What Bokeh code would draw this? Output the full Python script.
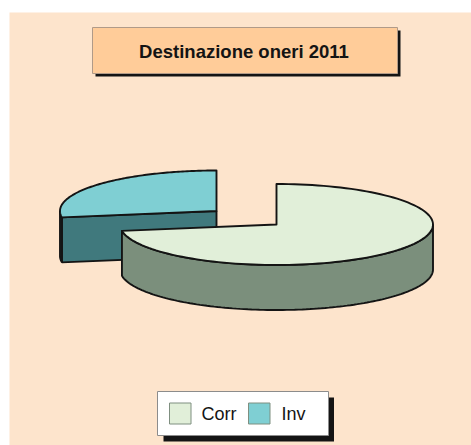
import numpy as np
from bokeh.plotting import figure
from bokeh.core.properties import value
from bokeh.embed import file_html
from bokeh.resources import INLINE

# Data
title_text = "Destinazione oneri 2011"
categories = ["Corr", "Inv"]
values = [72.5, 27.5]
top_colors = ["#E1EFD9", "#7FCFD3"]
side_colors = ["#7B8F7C", "#40797D"]

# Layout, in page pixels
W, H = 471, 445
RX, RY, DEPTH = 156.5, 40.5, 45
CENTERS = {"Corr": (276, 224), "Inv": (216, 210.5)}
INK = "#141414"
LW = 1.9

p = figure(width=W, height=H, x_range=(0, W), y_range=(H, 0),
           output_backend="svg", toolbar_location=None, background_fill_color="white",
           min_border=0, outline_line_color=None, border_fill_color="white")
p.axis.visible = False
p.grid.visible = False


def box(x0, x1, y0, y1, fill, line=None, lw=1):
    p.quad(left=[x0], right=[x1], top=[y0], bottom=[y1], fill_color=fill,
           line_color=line, line_width=lw)


def rim(name, a0, a1):
    cx, cy = CENTERS[name]
    t = np.radians(np.linspace(a0, a1, 120))
    return cx + RX * np.sin(t), cy - RY * np.cos(t)


box(9, 471, 12, 445, "#FDE4CC")

# Title box
box(95, 400, 30, 76, INK)
box(92, 397, 27, 73, "#FFCC99", "#B09A88", 1)
p.text(x=[243.5], y=[51], text=[title_text], text_font=value("Liberation Sans"),
       text_font_style="bold", text_font_size="18.5px", text_align="center",
       text_baseline="middle", text_color=INK)

# Pie slices, angles measured clockwise from the top of the ellipse
shares = np.array(values) / sum(values) * 360
split = shares[0]

# Inv: radial wall, small outer wall, top
cx, cy = CENTERS["Inv"]
ex, ey = rim("Inv", split, split)
p.patch([cx, ex[0], ex[0], cx], [cy, ey[0], ey[0] + DEPTH, cy + DEPTH],
        fill_color=side_colors[1], line_color=INK, line_width=LW)
wx, wy = rim("Inv", split, 270)
p.patch(np.r_[wx, wx[::-1]], np.r_[wy, wy[::-1] + DEPTH],
        fill_color=side_colors[1], line_color=INK, line_width=LW)
tx, ty = rim("Inv", split, 360)
p.patch(np.r_[cx, tx], np.r_[cy, ty], fill_color=top_colors[1], line_color=INK,
        line_width=LW, line_join="round")

# Corr: outer wall, top
wx, wy = rim("Corr", 90, split)
p.patch(np.r_[wx, wx[::-1]], np.r_[wy, wy[::-1] + DEPTH],
        fill_color=side_colors[0], line_color=INK, line_width=LW)
cx, cy = CENTERS["Corr"]
tx, ty = rim("Corr", 0, split)
p.patch(np.r_[cx, tx], np.r_[cy, ty], fill_color=top_colors[0], line_color=INK,
        line_width=LW, line_join="round")

# Legend
box(163, 333.5, 397, 441, INK)
box(157, 328, 391, 435, "white", "#8C8C8C", 1)
swatch_left = [169, 248]
label_left = [201, 281]
for name, color, sx, lx in zip(categories, top_colors, swatch_left, label_left):
    box(sx, sx + 21.5, 402.5, 423.5, color, "#7F8F80", 1)
    p.text(x=[lx], y=[413.5], text=[name], text_font=value("Liberation Sans"),
           text_font_size="18px", text_align="left", text_baseline="middle",
           text_color=INK)

open("out.html", "w").write(file_html(p, INLINE))
